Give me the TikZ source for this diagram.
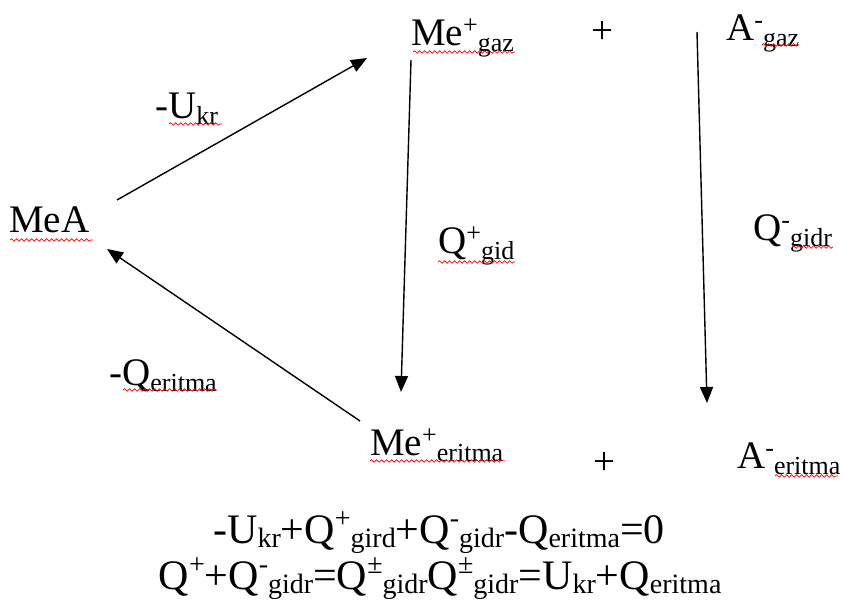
\documentclass[tikz,border=0pt]{standalone}
\usepackage{fontspec}
\setmainfont{Liberation Serif}
\usetikzlibrary{arrows.meta,decorations.pathmorphing}
\newcommand\tsp[1]{\raisebox{12pt}{\fontsize{26pt}{26pt}\selectfont #1}}
\newcommand\tsb[1]{\raisebox{-6pt}{\fontsize{26pt}{26pt}\selectfont #1}}
\newcommand\bsp[1]{\raisebox{16pt}{\fontsize{28pt}{28pt}\selectfont #1}}
\newcommand\bsb[1]{\raisebox{-4.5pt}{\fontsize{28pt}{28pt}\selectfont #1}}
\begin{document}
\begin{tikzpicture}[x=1pt,y=-1pt,
  lbl/.style={anchor=base west, inner sep=0pt, font=\fontsize{39pt}{39pt}\selectfont},
  eqn/.style={anchor=base west, inner sep=0pt, font=\fontsize{42pt}{42pt}\selectfont},
  arr/.style={line width=1.4pt, -{Triangle[length=16pt,width=13pt]}},
  wavy/.style={draw=red, line width=0.7pt, decorate, decoration={snake, segment length=5pt, amplitude=1.3pt}}]
\useasboundingbox (0,0) rectangle (843,600);
% labels
\node[lbl] (mea) at (9,232) {MeA};
\node[lbl] (ukr) at (155,118) {-U\tsb{kr}};
\node[lbl] (megaz) at (411,45) {Me\tsp{+}\tsb{gaz}};
\node[lbl] (plus1) at (591,43) {+};
\node[lbl] (agaz) at (726,40) {A\tsp{-}\tsb{gaz}};
\node[lbl] (qgid) at (438,253) {Q\tsp{+}\tsb{gid}};
\node[lbl] (qgidr) at (753,240) {Q\tsp{-}\tsb{gidr}};
\node[lbl] (qer) at (109,385) {-Q\tsb{eritma}};
\node[lbl] (meer) at (370,455) {Me\tsp{+}\tsb{eritma}};
\node[lbl] (plus2) at (593,474) {+};
\node[lbl] (aer) at (737,468) {A\tsp{-}\tsb{eritma}};
% equations
\node[eqn] (eq1) at (213,543) {-U\bsb{kr}+Q\bsp{+}\bsb{gird}+Q\bsp{-}\bsb{gidr}-Q\bsb{eritma}=0};
\node[eqn] (eq2) at (158.5,589) {Q\bsp{+}+Q\bsp{-}\bsb{gidr}=Q\bsp{±}\bsb{gidr}Q\bsp{±}\bsb{gidr}=U\bsb{kr}+Q\bsb{eritma}};
% arrow ends
\coordinate (a1s) at (117,200); \coordinate (a1e) at (367,58);
\coordinate (a2s) at (360,421); \coordinate (a2e) at (107,249);
\coordinate (a3s) at (411,60);  \coordinate (a3e) at (401,392);
\coordinate (a4s) at (697,32);  \coordinate (a4e) at (707,403);
\draw[arr] (a1s) -- (a1e);
\draw[arr] (a2s) -- (a2e);
\draw[arr] (a3s) -- (a3e);
\draw[arr] (a4s) -- (a4e);
% spell-check underlines
\draw[wavy] (10,240) -- (93,240);
\draw[wavy] (169,124) -- (222,124);
\draw[wavy] (413,52) -- (515,52);
\draw[wavy] (762,45) -- (799,45);
\draw[wavy] (438,262) -- (515,262);
\draw[wavy] (792,247) -- (833,247);
\draw[wavy] (123,390) -- (217,390);
\draw[wavy] (370,461) -- (505,461);
\draw[wavy] (775,476) -- (838,476);
\end{tikzpicture}
\end{document}
